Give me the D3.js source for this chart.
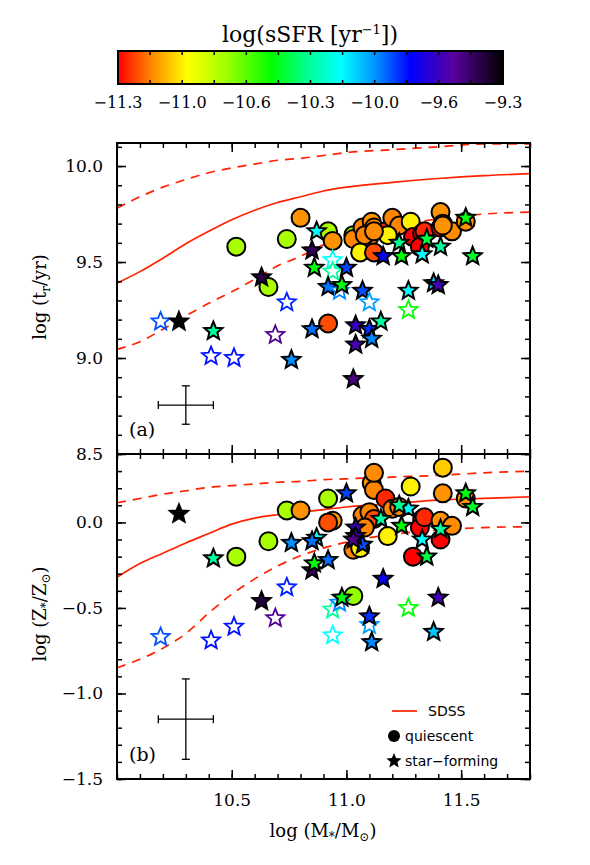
<!DOCTYPE html>
<html><head><meta charset="utf-8">
<script src="https://cdn.jsdelivr.net/npm/d3@7"></script>
<style>body{margin:0;background:#fff} svg{display:block}</style>
</head><body>
<svg id="c" width="590" height="865"></svg>
<script>
// ---------------- data ----------------
// galaxies: stellar mass, log age (panel a), log Z (panel b), log sSFR, kind (q = quiescent, s = star-forming, o = open star)
const mass = [10.19,10.27,10.42,10.41,10.51,10.63,10.69,10.74,10.76,10.87,10.85,10.86,10.85,10.94,10.94,11.00,10.92,10.97,10.98,11.07,11.10,11.27,11.27,11.38,11.40,11.04,11.04,11.03,11.10,11.11,11.16,11.15,11.23,11.24,11.33,11.41,11.35,11.52,11.55,
  10.52,10.66,10.74,10.80,10.92,10.94,10.92,11.03,11.03,11.07,11.11,11.12,11.10,11.17,11.20,11.23,11.28,11.29,11.33,11.32,11.34,11.41,11.42,11.41,11.46,11.52,11.06,11.12,11.42,11.08,11.18,11.12];
const logAge = [9.19,9.19,9.14,9.01,9.00,9.42,9.12,9.29,8.99,9.66,9.56,9.47,9.15,9.51,9.45,9.47,9.37,9.35,9.38,9.35,9.29,9.35,9.25,9.39,9.38,9.17,9.07,8.89,9.15,9.10,9.53,9.19,9.60,9.53,9.54,9.58,9.62,9.73,9.53,
  9.58,9.37,9.62,9.73,9.66,9.61,9.18,9.64,9.62,9.68,9.71,9.68,9.63,9.66,9.73,9.69,9.71,9.63,9.65,9.58,9.66,9.76,9.70,9.68,9.66,9.71,9.55,9.55,9.69,9.64,9.64,9.66];
const logZ = [-0.67,0.05,-0.21,-0.69,-0.61,-0.46,-0.56,-0.38,-0.12,-0.09,-0.28,-0.24,-0.11,-0.66,-0.51,0.17,-0.22,-0.47,-0.44,-0.13,-0.60,0.08,-0.50,-0.64,-0.44,-0.03,-0.08,-0.10,-0.55,-0.70,-0.33,0.02,0.10,-0.02,-0.10,-0.04,-0.20,0.17,0.09,
  -0.20,-0.11,0.07,0.07,0.14,0.01,0.00,-0.43,-0.16,0.04,0.23,0.19,0.06,0.14,0.08,0.09,0.21,-0.20,0.02,-0.03,0.03,0.01,0.32,-0.10,-0.02,0.14,-0.15,0.02,0.17,-0.03,-0.08,0.29];
const ssfr = [-9.88,-9.30,-10.30,-9.80,-9.80,-9.40,-9.54,-9.82,-9.96,-10.14,-9.45,-10.50,-9.92,-10.14,-10.30,-9.86,-9.92,-9.95,-10.48,-9.88,-9.98,-10.14,-10.50,-10.05,-9.62,-9.64,-9.60,-9.52,-9.84,-9.95,-9.76,-10.30,-10.32,-10.50,-10.14,-10.30,-10.42,-10.48,-10.45,
  -10.76,-10.76,-10.76,-11.11,-10.76,-11.11,-11.20,-10.72,-11.13,-11.13,-11.11,-11.13,-11.13,-11.25,-11.13,-11.13,-10.96,-11.30,-11.30,-11.30,-11.25,-11.11,-11.02,-11.30,-11.12,-11.11,-10.96,-11.20,-11.11,-11.13,-10.96,-11.12];
const kind = ["o","s","s","o","o","s","o","o","s","s","s","s","s","o","o","s","s","o","s","s","o","s","o","s","s","s","s","s","s","s","s","s","s","s","s","s","s","s","s",
  "q","q","q","q","q","q","q","q","q","q","q","q","q","q","q","q","q","q","q","q","q","q","q","q","q","q","q","q","q","q","q","q"];

// SDSS relations
const sdssMass = [10.0,10.1,10.2,10.3,10.4,10.5,10.6,10.7,10.8,10.9,11.0,11.2,11.4,11.6,11.8];
const ageMed = [9.39,9.45,9.52,9.595,9.66,9.72,9.77,9.81,9.84,9.87,9.89,9.915,9.935,9.95,9.96];
const ageHi  = [9.78,9.84,9.89,9.93,9.965,9.99,10.01,10.03,10.04,10.055,10.07,10.085,10.10,10.115,10.115];
const ageLo  = [9.045,9.085,9.15,9.22,9.285,9.345,9.41,9.48,9.53,9.59,9.63,9.685,9.725,9.75,9.76];
const zMed = [-0.32,-0.24,-0.18,-0.12,-0.065,-0.01,0.025,0.045,0.06,0.075,0.09,0.11,0.13,0.14,0.15];
const zHi  = [0.115,0.14,0.165,0.185,0.205,0.215,0.225,0.235,0.24,0.25,0.255,0.265,0.275,0.29,0.30];
const zLo  = [-0.85,-0.80,-0.735,-0.65,-0.53,-0.42,-0.33,-0.255,-0.195,-0.15,-0.115,-0.07,-0.045,-0.03,-0.025];

// typical error bars [center mass, center value], [err mass, err value]
const errCenterA = [10.30, 8.755], errA = [0.12, 0.10];
const errCenterB = [10.30, -1.15], errB = [0.12, 0.235];

// axis ticks
const xMajor = [10.5, 11.0, 11.5];
const yMajorA = [8.5, 9.0, 9.5, 10.0];
const yMajorB = [-1.5, -1.0, -0.5, 0.0];
const cbarDomain = [-11.3, -9.3];
const cbarStopFrac = [0, 0.09, 0.18, 0.28, 0.40, 0.49, 0.58, 0.67, 0.76, 0.87, 1.0];
const cbarStopCol = ["#ff0000","#ff8c00","#ffff00","#a0ff00","#00ff00","#00ff90","#00ffff","#0090ff","#0000ff","#5a00a0","#000000"];

// ---------------- drawing ----------------
const svg = d3.select("#c");
const L = 117, R = 530, T1 = 143, B1 = 454, B2 = 779;
const x = d3.scaleLinear([10.0, 11.8], [L, R]);
const yA = d3.scaleLinear([8.5, 10.12], [B1, T1]);
const yB = d3.scaleLinear([-1.5, 0.4], [B2, B1]);
const color = d3.scaleLinear()
  .domain(cbarStopFrac.map(f => cbarDomain[0] + f * (cbarDomain[1] - cbarDomain[0])))
  .range(cbarStopCol).clamp(true);
const serif = "DejaVu Serif";
const fmt = d3.format(".1f");
const red = "#ff2200";

function range(a, b, s) { const out = []; for (let v = a; v <= b + 1e-9; v += s) out.push(Math.round(v * 10) / 10); return out; }
const xMinor = range(10.0, 11.8, 0.1);

function starPath(Ro, Ri) {
  const pts = [];
  for (let i = 0; i < 10; i++) {
    const a = -Math.PI / 2 + i * Math.PI / 5;
    const rr = i % 2 === 0 ? Ro : Ri;
    pts.push([rr * Math.cos(a), rr * Math.sin(a)]);
  }
  return "M" + pts.map(p => p[0].toFixed(2) + "," + p[1].toFixed(2)).join("L") + "Z";
}
const STAR = starPath(9.5, 4.2);

function panel(y, top, bottom, yMajor, yMinor, showX) {
  const g = svg.append("g");
  const tickStyle = sel => { sel.select(".domain").remove(); sel.selectAll("line").attr("stroke", "#000").attr("stroke-width", 1.5); sel.selectAll("text").attr("font-family", serif).attr("font-size", 17).attr("fill", "#000"); };
  // left
  g.append("g").attr("transform", `translate(${L},0)`).call(d3.axisLeft(y).tickValues(yMinor).tickSize(-5).tickFormat("")).call(tickStyle);
  g.append("g").attr("transform", `translate(${L},0)`).call(d3.axisLeft(y).tickValues(yMajor).tickSize(-9).tickPadding(14).tickFormat(fmt)).call(tickStyle);
  // right
  g.append("g").attr("transform", `translate(${R},0)`).call(d3.axisRight(y).tickValues(yMinor).tickSize(-5).tickFormat("")).call(tickStyle);
  g.append("g").attr("transform", `translate(${R},0)`).call(d3.axisRight(y).tickValues(yMajor).tickSize(-9).tickFormat("")).call(tickStyle);
  // top
  g.append("g").attr("transform", `translate(0,${top})`).call(d3.axisTop(x).tickValues(xMinor).tickSize(-5).tickFormat("")).call(tickStyle);
  g.append("g").attr("transform", `translate(0,${top})`).call(d3.axisTop(x).tickValues(xMajor).tickSize(-9).tickFormat("")).call(tickStyle);
  // bottom
  g.append("g").attr("transform", `translate(0,${bottom})`).call(d3.axisBottom(x).tickValues(xMinor).tickSize(-5).tickFormat("")).call(tickStyle);
  g.append("g").attr("transform", `translate(0,${bottom})`).call(d3.axisBottom(x).tickValues(xMajor).tickSize(-9).tickPadding(15).tickFormat(showX ? fmt : "")).call(tickStyle);
  return g;
}

function curves(y, med, hi, lo) {
  const line = d3.line().x((d, i) => x(sdssMass[i])).y(d => y(d)).curve(d3.curveMonotoneX);
  svg.append("path").attr("d", line(med)).attr("fill", "none").attr("stroke", red).attr("stroke-width", 1.7);
  [hi, lo].forEach(arr => svg.append("path").attr("d", line(arr)).attr("fill", "none").attr("stroke", red).attr("stroke-width", 1.7).attr("stroke-dasharray", "9,7"));
}

function points(y, vals) {
  const idx = d3.range(mass.length);
  const g = svg.append("g");
  idx.filter(i => kind[i] === "q").forEach(i => {
    g.append("circle").attr("cx", x(mass[i])).attr("cy", y(vals[i])).attr("r", 9)
      .attr("fill", color(ssfr[i])).attr("stroke", "#000").attr("stroke-width", 2);
  });
  idx.filter(i => kind[i] !== "q").forEach(i => {
    const open = kind[i] === "o";
    g.append("path").attr("d", STAR).attr("transform", `translate(${x(mass[i])},${y(vals[i])})`)
      .attr("fill", open ? "#fff" : color(ssfr[i])).attr("stroke", open ? color(ssfr[i]) : "#000")
      .attr("stroke-width", open ? 1.8 : 2).attr("stroke-linejoin", "miter");
  });
}

function errbar(y, c, e) {
  const cx = x(c[0]), cy = y(c[1]);
  const x0 = x(c[0] - e[0]), x1 = x(c[0] + e[0]), y0 = y(c[1] - e[1]), y1 = y(c[1] + e[1]);
  const g = svg.append("g").attr("stroke", "#000").attr("stroke-width", 1.3);
  g.append("line").attr("x1", x0).attr("x2", x1).attr("y1", cy).attr("y2", cy);
  g.append("line").attr("x1", cx).attr("x2", cx).attr("y1", y0).attr("y2", y1);
  g.append("line").attr("x1", x0).attr("x2", x0).attr("y1", cy - 4).attr("y2", cy + 4);
  g.append("line").attr("x1", x1).attr("x2", x1).attr("y1", cy - 4).attr("y2", cy + 4);
  g.append("line").attr("x1", cx - 4).attr("x2", cx + 4).attr("y1", y0).attr("y2", y0);
  g.append("line").attr("x1", cx - 4).attr("x2", cx + 4).attr("y1", y1).attr("y2", y1);
}

svg.append("defs");

// panel a
curves(yA, ageMed, ageHi, ageLo);
points(yA, logAge);
errbar(yA, errCenterA, errA);
// panel b
curves(yB, zMed, zHi, zLo);
points(yB, logZ);
errbar(yB, errCenterB, errB);

panel(yA, T1, B1, yMajorA, range(8.5, 10.1, 0.1), false);
panel(yB, B1, B2, yMajorB, range(-1.5, 0.4, 0.1), true);
svg.append("rect").attr("x", L).attr("y", T1).attr("width", R - L).attr("height", B1 - T1).attr("fill", "none").attr("stroke", "#000").attr("stroke-width", 2);
svg.append("rect").attr("x", L).attr("y", B1).attr("width", R - L).attr("height", B2 - B1).attr("fill", "none").attr("stroke", "#000").attr("stroke-width", 2);

// panel labels
svg.append("text").attr("x", 129).attr("y", 436).attr("font-family", serif).attr("font-size", 19).text("(a)");
svg.append("text").attr("x", 129).attr("y", 761).attr("font-family", serif).attr("font-size", 19).text("(b)");

// axis titles
function yTitle(cx, cy, parts) {
  const t = svg.append("text").attr("transform", `translate(${cx},${cy}) rotate(-90)`).attr("text-anchor", "middle")
    .attr("font-family", serif).attr("font-size", 18);
  parts.forEach(p => {
    const s = t.append("tspan").text(p[0]);
    if (p[1] === "sub") s.attr("font-size", 12).attr("dy", 4);
    if (p[1] === "back") s.attr("dy", -4);
  });
}
yTitle(46, 297, [["log (t"], ["r", "sub"], ["/yr)", "back"]]);
yTitle(46, 614, [["log (Z"], ["*", "sub"], ["/Z", "back"], ["⊙", "sub"], [")", "back"]]);
const xt = svg.append("text").attr("x", 323).attr("y", 837).attr("text-anchor", "middle").attr("font-family", serif).attr("font-size", 18);
xt.append("tspan").text("log (M");
xt.append("tspan").text("*").attr("font-size", 12).attr("dy", 4);
xt.append("tspan").text("/M").attr("dy", -4);
xt.append("tspan").text("⊙").attr("font-size", 12).attr("dy", 4);
xt.append("tspan").text(")").attr("dy", -4);

// legend
const lg = svg.append("g").attr("font-family", "DejaVu Sans").attr("font-size", 14);
lg.append("line").attr("x1", 392).attr("x2", 417).attr("y1", 711).attr("y2", 711).attr("stroke", red).attr("stroke-width", 1.7);
lg.append("text").attr("x", 428).attr("y", 716).text("SDSS");
lg.append("circle").attr("cx", 394).attr("cy", 736).attr("r", 6).attr("fill", "#000");
lg.append("text").attr("x", 405).attr("y", 741).text("quiescent");
lg.append("path").attr("d", starPath(8, 3.6)).attr("transform", "translate(394,761)").attr("fill", "#000");
lg.append("text").attr("x", 405).attr("y", 766).text("star\u2212forming");

// colorbar
const cb = d3.scaleLinear(cbarDomain, [118, 503]);
const grad = svg.select("defs").append("linearGradient").attr("id", "cbg").attr("x1", "0%").attr("x2", "100%");
cbarStopFrac.forEach((f, i) => grad.append("stop").attr("offset", (f * 100) + "%").attr("stop-color", cbarStopCol[i]));
svg.append("rect").attr("x", 118).attr("y", 51).attr("width", 385).attr("height", 33).attr("fill", "url(#cbg)").attr("stroke", "#000").attr("stroke-width", 2);
const cbTicks = d3.range(13).map(i => cbarDomain[0] + i * (cbarDomain[1] - cbarDomain[0]) / 12);
cbTicks.slice(1, 12).forEach(v => {
  svg.append("line").attr("x1", cb(v)).attr("x2", cb(v)).attr("y1", 51).attr("y2", 55).attr("stroke", "#000").attr("stroke-width", 1.5);
  svg.append("line").attr("x1", cb(v)).attr("x2", cb(v)).attr("y1", 80).attr("y2", 84).attr("stroke", "#000").attr("stroke-width", 1.5);
});
cbTicks.filter((d, i) => i % 2 === 0).forEach(v => {
  svg.append("text").attr("x", cb(v)).attr("y", 108).attr("text-anchor", "middle").attr("font-family", serif).attr("font-size", 16).text(fmt(v));
});
const ct = svg.append("text").attr("x", 310).attr("y", 42).attr("text-anchor", "middle").attr("font-family", serif).attr("font-size", 22);
ct.append("tspan").text("log(sSFR [yr");
ct.append("tspan").text("\u22121").attr("font-size", 13).attr("dy", -8);
ct.append("tspan").text("])").attr("dy", 8);
</script>
</body></html>
